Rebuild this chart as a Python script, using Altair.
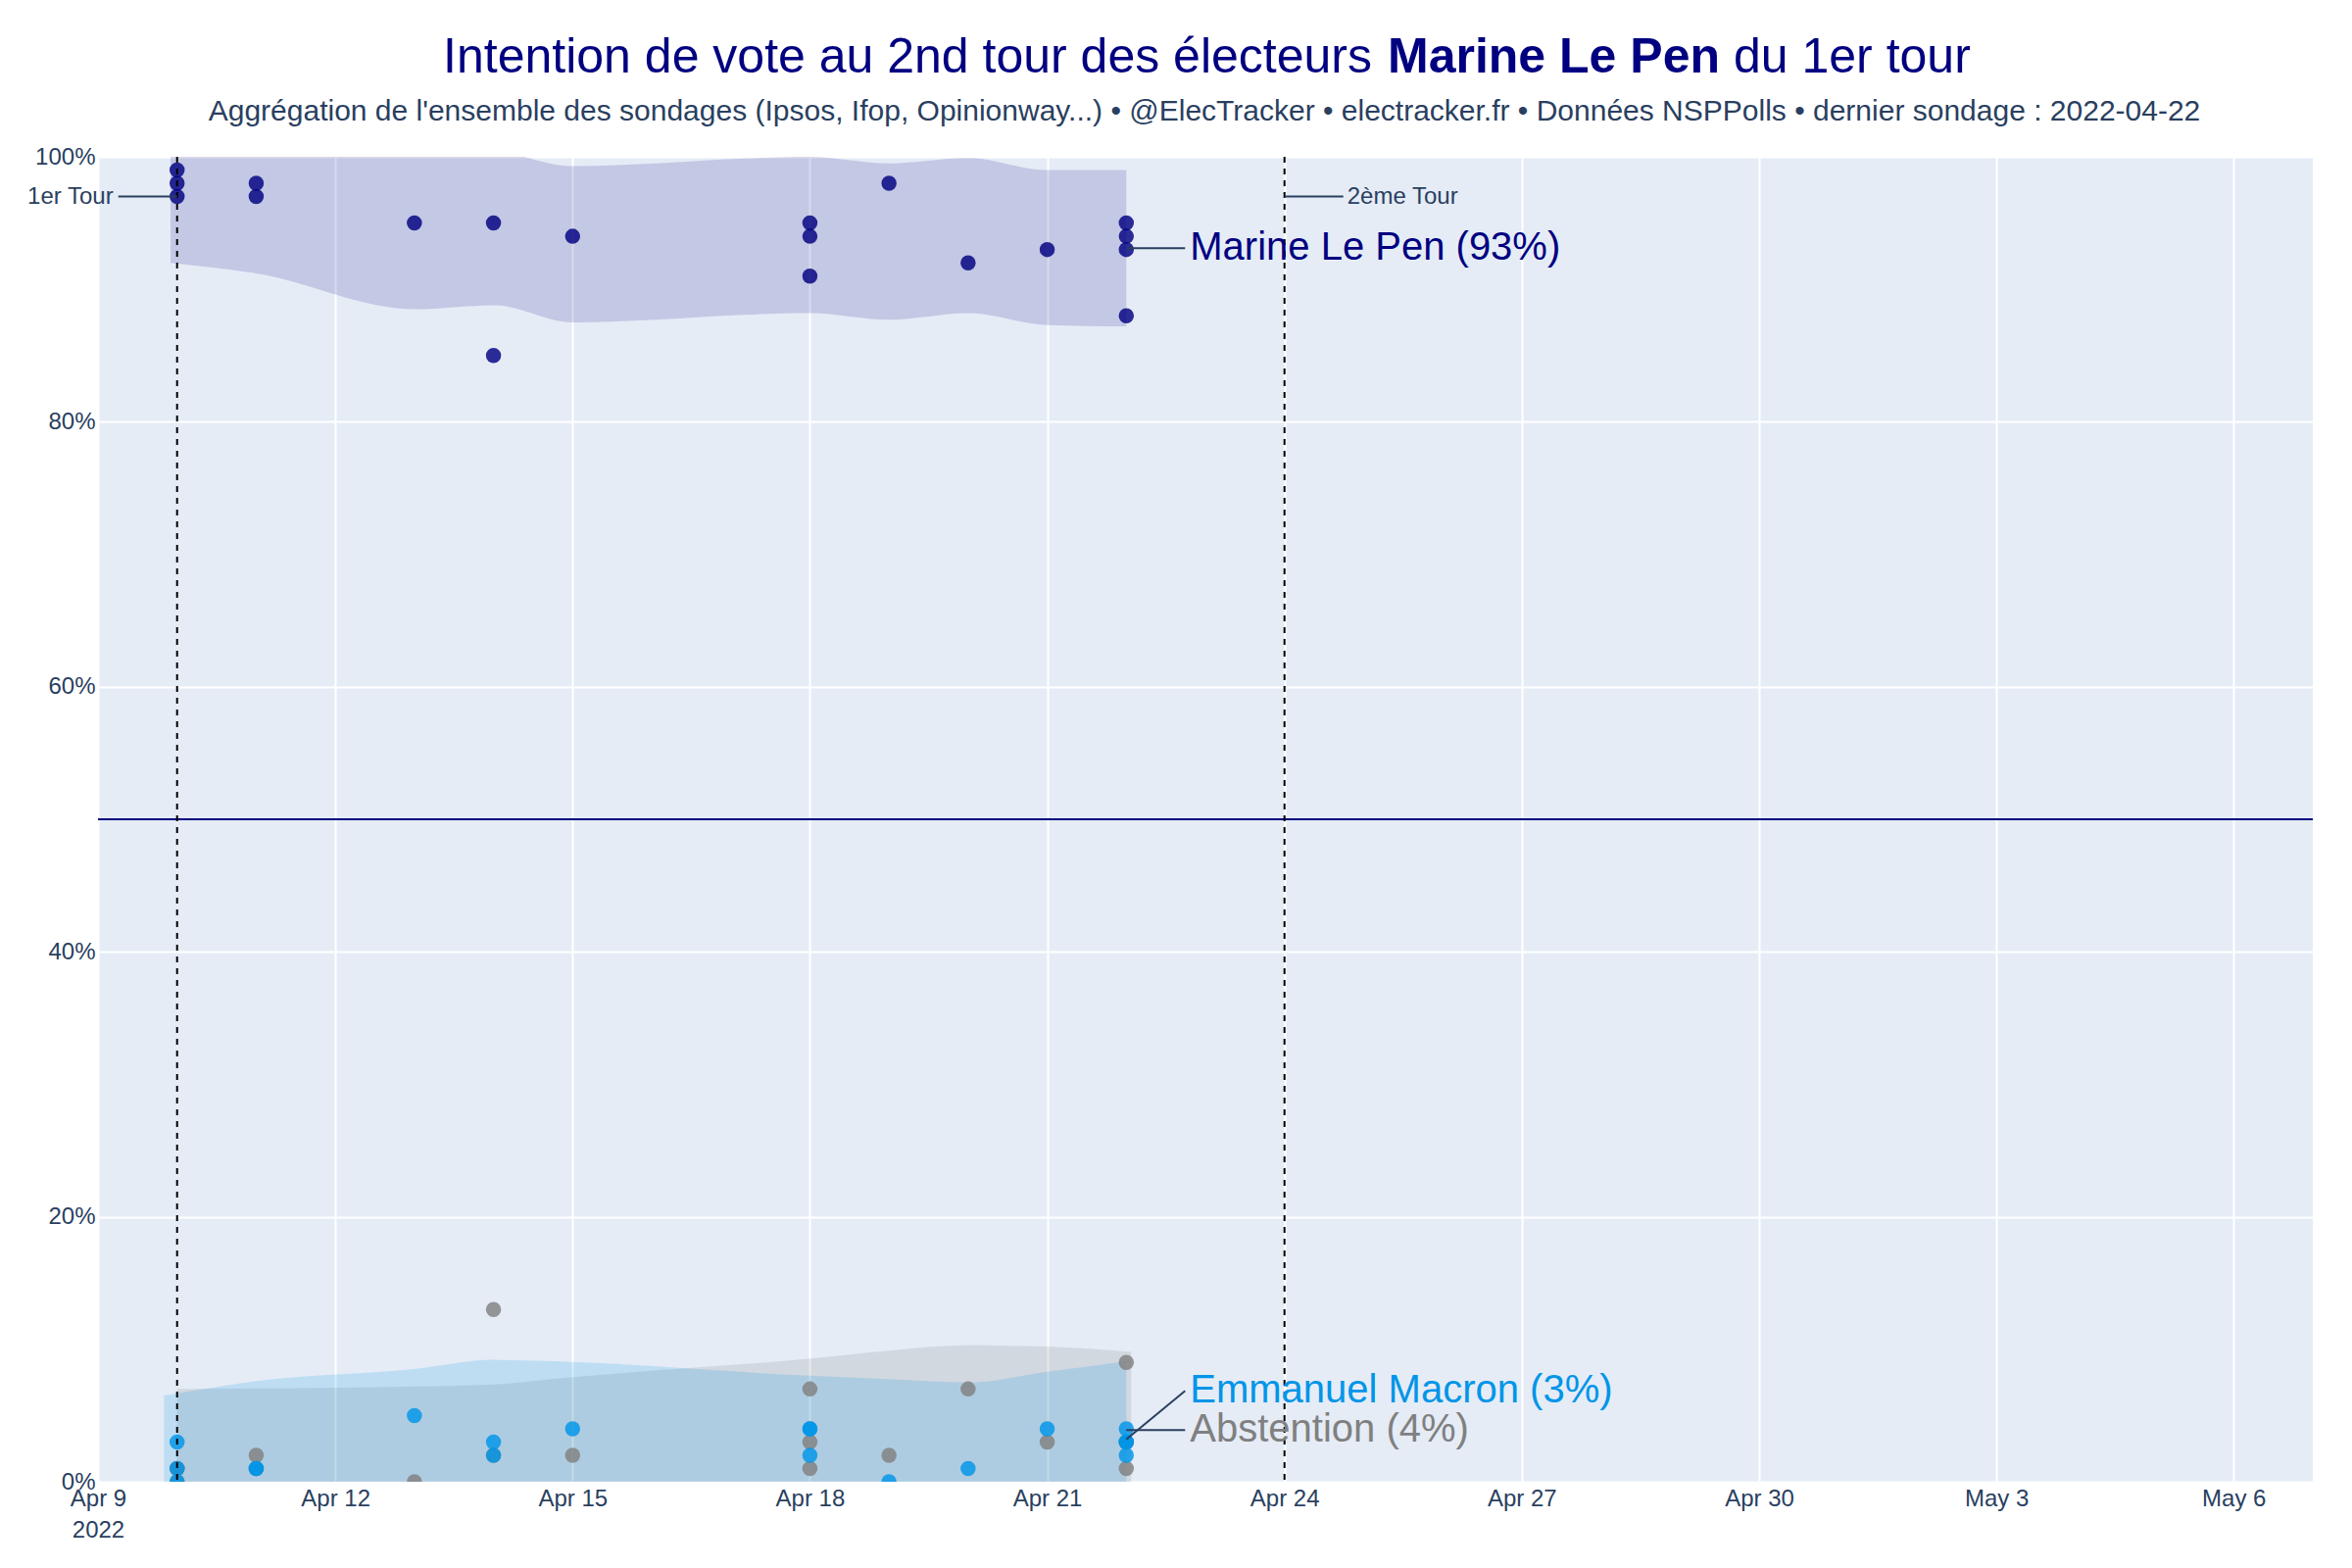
import altair as alt
import pandas as pd

FONT = "Liberation Sans"
NAVY = "#000080"
MAC = "#0095E8"
ABS = "#808080"
SLATE = "#2a3f5f"

# ---------------- data ----------------
poll_dates = (["2022-04-10"] * 3 + ["2022-04-11"] * 2 + ["2022-04-13"] +
              ["2022-04-14"] * 2 + ["2022-04-15"] + ["2022-04-18"] * 3 +
              ["2022-04-19"] + ["2022-04-20"] + ["2022-04-21"] + ["2022-04-22"] * 4)
mlp_vals = [99, 98, 97, 98, 97, 95, 95, 85, 94, 95, 94, 91, 98, 92, 93, 95, 94, 93, 88]
macron_vals = [0, 1, 3, 1, 1, 5, 3, 2, 4, 4, 4, 2, 0, 1, 4, 4, 3, 2, 3]
abst_vals = [1, 1, 0, 1, 2, 0, 2, 13, 2, 1, 3, 7, 2, 7, 3, 1, 3, 3, 9]

mlp_band_dates = ["2022-04-09T22:00:00Z", "2022-04-11", "2022-04-13", "2022-04-14", "2022-04-15",
                  "2022-04-18", "2022-04-19", "2022-04-20", "2022-04-21", "2022-04-22"]
mlp_band_low = [92.0, 91.2, 88.5, 88.8, 87.5, 88.2, 87.7, 88.2, 87.3, 87.2]
mlp_band_high = [104.0, 103.0, 101.5, 100.6, 99.3, 100.0, 99.5, 99.9, 99.0, 99.0]

mac_band_dates = ["2022-04-09T20:00:00Z", "2022-04-11", "2022-04-13", "2022-04-14", "2022-04-15",
                  "2022-04-18", "2022-04-19", "2022-04-20", "2022-04-21", "2022-04-22"]
mac_band_low = [0, 0, 0, 0, 0, 0, 0, 0, 0, 0]
mac_band_high = [6.5, 7.6, 8.5, 9.2, 9.05, 8.0, 7.75, 7.5, 8.3, 9.1]

abs_band_dates = ["2022-04-10", "2022-04-11", "2022-04-13", "2022-04-14", "2022-04-15",
                  "2022-04-18", "2022-04-19", "2022-04-20", "2022-04-21", "2022-04-22T01:30:00Z"]
abs_band_low = [0, 0, 0, 0, 0, 0, 0, 0, 0, 0]
abs_band_high = [7.0, 7.05, 7.2, 7.35, 7.9, 9.3, 9.9, 10.3, 10.2, 9.8]

tour_dates = ["2022-04-10", "2022-04-24"]
tour_labels = ["1er Tour", "2ème Tour"]
tour_y = [97, 97]

end_labels = ["Marine Le Pen (93%)", "Emmanuel Macron (3%)", "Abstention (4%)"]
end_colors = [NAVY, MAC, ABS]
end_point_y = [93.1, 3.2, 3.9]
end_text_y = [93.1, 6.86, 3.9]
end_date = "2022-04-22"

tick_days = [(4, 9), (4, 12), (4, 15), (4, 18), (4, 21), (4, 24), (4, 27), (4, 30), (5, 3), (5, 6)]
y_ticks = [0, 20, 40, 60, 80, 100]

title_left = "Intention de vote au 2nd tour des électeurs"
title_bold = "Marine Le Pen"
title_right = "du 1er tour"
subtitle = ("Aggrégation de l'ensemble des sondages (Ipsos, Ifop, Opinionway...) • @ElecTracker • "
            "electracker.fr • Données NSPPolls • dernier sondage : 2022-04-22")

# ---------------- scales / axes ----------------
xscale = alt.Scale(type="utc", domain=[alt.DateTime(year=2022, month=4, date=9, utc=True),
                                       alt.DateTime(year=2022, month=5, date=7, utc=True)])
xaxis = alt.Axis(values=[alt.DateTime(year=2022, month=m, date=d, utc=True) for m, d in tick_days],
                 labelExpr="utcFormat(datum.value, '%m-%d') == '04-09' ? [utcFormat(datum.value, '%b %-d'), '2022'] : utcFormat(datum.value, '%b %-d')",
                 grid=True, gridColor="white", gridWidth=2, ticks=False, domain=False,
                 labelFont=FONT, labelFontSize=24, labelColor=SLATE, labelPadding=5,
                 labelLineHeight=32, labelFlush=False, labelOverlap=False, title=None)
yscale = alt.Scale(domain=[0, 100], nice=False, zero=False)
yaxis = alt.Axis(values=y_ticks, labelExpr="datum.value + '%'", grid=True, gridColor="white",
                 gridWidth=2, ticks=False, domain=False, labelFont=FONT, labelFontSize=24,
                 labelColor=SLATE, labelPadding=3, title=None)


def X(field):
    return alt.X(field, type="temporal", scale=xscale, axis=xaxis)


def Y(field):
    return alt.Y(field, type="quantitative", scale=yscale, axis=yaxis)


# ---------------- bands ----------------
def band(dates, low, high, color, op):
    df = pd.DataFrame({"date": dates, "low": low, "high": high})
    return alt.Chart(df).mark_area(color=color, opacity=op, interpolate="monotone", clip=True).encode(
        x=X("date"), y=Y("low"), y2="high")


bands = [band(mlp_band_dates, mlp_band_low, mlp_band_high, NAVY, 0.15),
         band(abs_band_dates, abs_band_low, abs_band_high, ABS, 0.18),
         band(mac_band_dates, mac_band_low, mac_band_high, MAC, 0.17)]


# ---------------- points ----------------
def pts(vals, color):
    df = pd.DataFrame({"date": poll_dates, "v": vals})
    return alt.Chart(df).mark_circle(size=240, opacity=0.82, color=color, clip=True).encode(
        x=X("date"), y=Y("v"))


points = [pts(mlp_vals, NAVY), pts(abst_vals, ABS), pts(macron_vals, MAC)]

# ---------------- reference lines ----------------
half = alt.Chart(pd.DataFrame({"v": [50]})).mark_rule(color=NAVY, strokeWidth=2).encode(y=Y("v"))
tours_df = pd.DataFrame({"date": tour_dates, "label": tour_labels, "y": tour_y})
dashed = alt.Chart(tours_df).mark_rule(color="black", strokeWidth=2, strokeDash=[6, 6]).encode(x=X("date"))

t1 = tours_df.iloc[[0]]
t2 = tours_df.iloc[[1]]
t1_line = alt.Chart(t1).mark_rule(color=SLATE, strokeWidth=2, x2Offset=-60).encode(
    x=X("date"), x2="date", y=Y("y"))
t1_text = alt.Chart(t1).mark_text(align="right", baseline="middle", xOffset=-65, font=FONT,
                                  fontSize=24, color=SLATE).encode(x=X("date"), y=Y("y"), text="label:N")
t2_line = alt.Chart(t2).mark_rule(color=SLATE, strokeWidth=2, x2Offset=60).encode(
    x=X("date"), x2="date", y=Y("y"))
t2_text = alt.Chart(t2).mark_text(align="left", baseline="middle", xOffset=64, font=FONT,
                                  fontSize=24, color=SLATE).encode(x=X("date"), y=Y("y"), text="label:N")

# ---------------- end labels ----------------
end_df = pd.DataFrame({"date": [end_date] * 3, "label": end_labels, "color": end_colors,
                       "yp": end_point_y, "yt": end_text_y})
end_lines = alt.Chart(end_df).mark_rule(color=SLATE, strokeWidth=2, x2Offset=60).encode(
    x=X("date"), x2="date", y=Y("yp"), y2="yt")
end_text = alt.Chart(end_df).mark_text(align="left", baseline="middle", xOffset=65, font=FONT,
                                       fontSize=40).encode(
    x=X("date"), y=Y("yt"), text="label:N", color=alt.Color("color:N", scale=None))

# ---------------- title ----------------
def txt(s, x, y, size, color, align, weight="normal"):
    return alt.Chart(pd.DataFrame({"t": [s]})).mark_text(
        align=align, baseline="alphabetic", font=FONT, fontSize=size, color=color,
        fontWeight=weight).encode(x=alt.value(x), y=alt.value(y), text="t:N")


titles = [txt(title_left, 1300, -86, 50, NAVY, "right"),
          txt(title_bold, 1316, -86, 50, NAVY, "left", "bold"),
          txt(title_right, 1669, -86, 50, NAVY, "left"),
          txt(subtitle, 1129, -37, 30, SLATE, "center")]

chart = alt.layer(*bands, *points, half, dashed, t1_line, t1_text, t2_line, t2_text,
                  end_lines, end_text, *titles).properties(
    width=2260, height=1352,
    padding={"left": 92, "top": 152, "right": 24, "bottom": 70},
    autosize=alt.AutoSizeParams(type="none"),
    background="white",
).configure_view(fill="#E5ECF6", strokeWidth=0)

chart.save("out.html", embed_options={"renderer": "svg", "actions": False})
